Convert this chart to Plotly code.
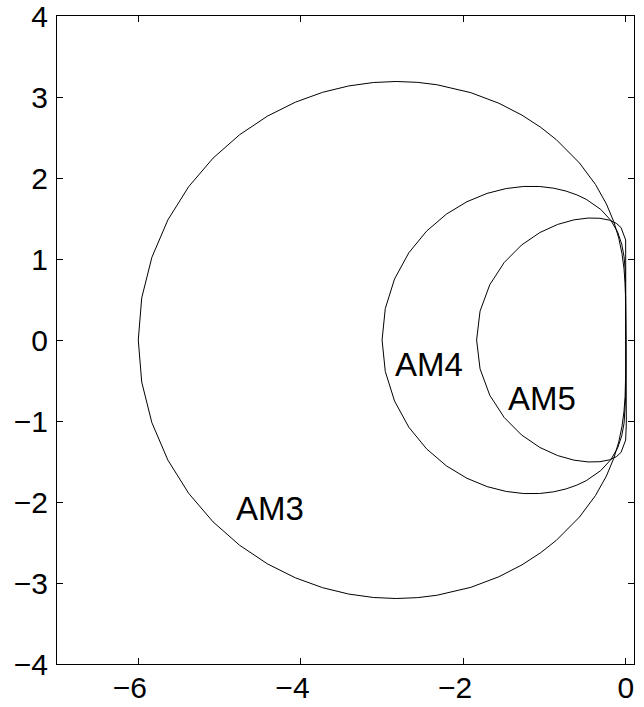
import plotly.graph_objects as go

# Boundary curves of the stability regions
am3_x_upper = [0, -0.00004, -0.0006, -0.0031, -0.0096, -0.0230, -0.0472, -0.0869, -0.1483, -0.2400,
               -0.3745, -0.5705, -0.8571, -1.0479, -1.2801, -1.5631, -1.9077, -2.3254, -2.5649, -2.8258,
               -3.1081, -3.4111, -3.7323, -4.0675, -4.4106, -4.7519, -5.0797, -5.3796, -5.6357, -5.8328,
               -5.9575, -6.0]
am3_y_upper = [0, 0.1745, 0.3491, 0.5242, 0.7005, 0.8796, 1.0638, 1.2560, 1.4600, 1.6800,
               1.9206, 2.1853, 2.4744, 2.6255, 2.7771, 2.9231, 3.0534, 3.1515, 3.1809, 3.1917,
               3.1788, 3.1364, 3.0577, 2.9357, 2.7637, 2.5349, 2.2453, 1.8935, 1.4823, 1.0202,
               0.5202, 0]
am3_x_lower = [-5.9575, -5.8328, -5.6357, -5.3796, -5.0797, -4.7519, -4.4106, -4.0675, -3.7323, -3.4111,
               -3.1081, -2.8258, -2.5649, -2.3254, -1.9077, -1.5631, -1.2801, -1.0479, -0.8571, -0.5705,
               -0.3745, -0.2400, -0.1483, -0.0869, -0.0472, -0.0230, -0.0096, -0.0031, -0.0006, -0.00004, 0]
am3_y_lower = [-0.5202, -1.0202, -1.4823, -1.8935, -2.2453, -2.5349, -2.7637, -2.9357, -3.0577, -3.1364,
               -3.1788, -3.1917, -3.1809, -3.1515, -3.0534, -2.9231, -2.7771, -2.6255, -2.4744, -2.1853,
               -1.9206, -1.6800, -1.4600, -1.2560, -1.0638, -0.8796, -0.7005, -0.5242, -0.3491, -0.1745, 0]

am4_x_upper = [0, 0, 0, -0.0004, -0.0022, -0.0079, -0.0219, -0.0506, -0.1017, -0.1846, -0.3097, -0.4886,
               -0.6024, -0.7347, -0.8870, -1.0605, -1.2558, -1.4722, -1.7071, -1.9553, -2.2078, -2.4520,
               -2.6711, -2.8465, -2.9604, -3.0]
am4_y_upper = [0, 0.1745, 0.3489, 0.5227, 0.6945, 0.8628, 1.0259, 1.1828, 1.3332, 1.4769, 1.6130, 1.7370,
               1.7914, 1.8381, 1.8740, 1.8949, 1.8958, 1.8700, 1.8100, 1.7074, 1.5544, 1.3447,
               1.0765, 0.7538, 0.3886, 0]
am4_x_lower = [-2.9604, -2.8465, -2.6711, -2.4520, -2.2078, -1.9553, -1.7071, -1.4722, -1.2558, -1.0605,
               -0.8870, -0.7347, -0.6024, -0.4886, -0.3097, -0.1846, -0.1017, -0.0506, -0.0219, -0.0079,
               -0.0022, -0.0004, 0, 0, 0]
am4_y_lower = [-0.3886, -0.7538, -1.0765, -1.3447, -1.5544, -1.7074, -1.8100, -1.8700, -1.8958, -1.8949,
               -1.8740, -1.8381, -1.7914, -1.7370, -1.6130, -1.4769, -1.3332, -1.1828, -1.0259, -0.8628,
               -0.6945, -0.5227, -0.3489, -0.1745, 0]

am5_x_upper = [0, 0, 0.0003, 0.0023, 0.0059, -0.0027, -0.0589, -0.1185, -0.2048, -0.3201, -0.4657,
               -0.6402, -0.8403, -1.0588, -1.2836, -1.4966, -1.6749, -1.7945, -1.8367]
am5_y_upper = [0, 0.1745, 0.5234, 0.7820, 1.0264, 1.2346, 1.3875, 1.4414, 1.4802, 1.5026, 1.5056,
               1.4829, 1.4265, 1.3264, 1.1725, 0.9577, 0.6820, 0.3555, 0]
am5_x_lower = [-1.7945, -1.6749, -1.4966, -1.2836, -1.0588, -0.8403, -0.6402, -0.4657, -0.3201, -0.2048,
               -0.1185, -0.0589, -0.0027, 0.0059, 0.0023, 0.0003, 0, 0]
am5_y_lower = [-0.3555, -0.6820, -0.9577, -1.1725, -1.3264, -1.4265, -1.4829, -1.5056, -1.5026, -1.4802,
               -1.4414, -1.3875, -1.2346, -1.0264, -0.7820, -0.5234, -0.1745, 0]

labels = ["AM3", "AM4", "AM5"]
label_x = [-4.375, -2.42, -1.03]
label_y = [-2.08, -0.30, -0.72]

x_ticks = [-6, -4, -2, 0]
x_tick_labels = ["\u22126\u2007", "\u22124\u2007", "\u22122\u2007", "0"]
y_ticks = [-4, -3, -2, -1, 0, 1, 2, 3, 4]
y_tick_labels = ["\u22124", "\u22123", "\u22122", "\u22121", "0", "1", "2", "3", "4"]

FONT = "Liberation Sans, Arial, Helvetica, sans-serif"

fig = go.Figure()
for xu, yu, xl, yl in [(am3_x_upper, am3_y_upper, am3_x_lower, am3_y_lower),
                       (am4_x_upper, am4_y_upper, am4_x_lower, am4_y_lower),
                       (am5_x_upper, am5_y_upper, am5_x_lower, am5_y_lower)]:
    fig.add_trace(go.Scatter(x=xu + xl, y=yu + yl, mode="lines",
                             line=dict(color="black", width=1), showlegend=False,
                             hoverinfo="skip"))

for t, lx, ly in zip(labels, label_x, label_y):
    fig.add_annotation(x=lx, y=ly, text=t, showarrow=False,
                       font=dict(family=FONT, size=33, color="black"),
                       xanchor="center", yanchor="middle")

axis_common = dict(showgrid=False, zeroline=False, showline=True, linecolor="black",
                   linewidth=1, mirror="ticks", ticks="inside", ticklen=6,
                   tickcolor="black", tickwidth=1, automargin=False,
                   ticklabeloverflow="allow",
                   tickfont=dict(family=FONT, size=30, color="black"))

fig.update_xaxes(range=[-7, 0.1], tickvals=x_ticks, ticktext=x_tick_labels,
                 ticklabelstandoff=-3, **axis_common)
fig.update_yaxes(range=[-4, 4], tickvals=y_ticks, ticktext=y_tick_labels,
                 ticklabelstandoff=2, **axis_common)

fig.update_layout(width=644, height=707, margin=dict(l=57, r=10, t=16, b=43, autoexpand=False),
                  plot_bgcolor="white", paper_bgcolor="white",
                  font=dict(family=FONT, color="black"))

fig.write_html("out.html", config={"displayModeBar": False},
               post_script="document.body.style.margin='0';")
